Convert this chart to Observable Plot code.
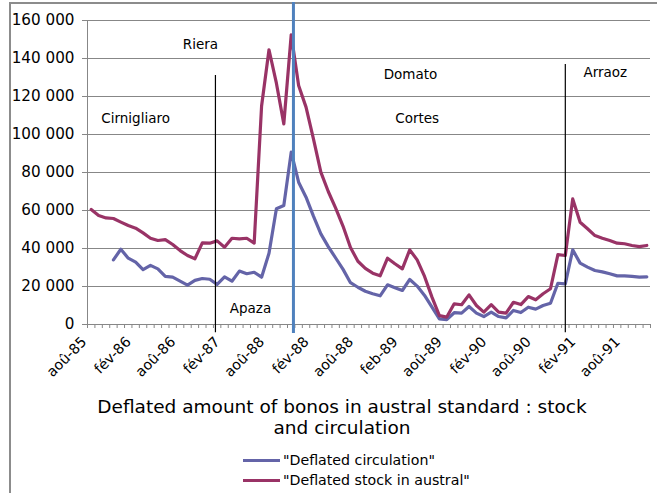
<!DOCTYPE html>
<html>
<head>
<meta charset="utf-8">
<script src="https://cdn.jsdelivr.net/npm/d3@7"></script>
<script src="https://cdn.jsdelivr.net/npm/@observablehq/plot@0.6"></script>
<style>
  body { margin: 0; background: #fff; font-family: "DejaVu Sans", sans-serif; }
  #wrap { position: relative; width: 662px; height: 493px; overflow: hidden; background: #fff; }
  #frame { position: absolute; left: 9px; top: 2px; width: 646px; height: 520px; border-left: 2px solid #8c8c8c; border-top: 2px solid #8c8c8c; }
  #chart { position: absolute; left: 0; top: 0; }
  #title { position: absolute; left: 22px; width: 640px; top: 396px; text-align: center; font-size: 18.5px; line-height: 21px; color: #000; }
  .leg { position: absolute; left: 243px; height: 20px; display: flex; align-items: center; font-size: 14.2px; color: #000; }
  .leg span.sw { display: inline-block; width: 37px; height: 3px; margin-right: 3px; }
</style>
</head>
<body>
<div id="wrap">
  <div id="frame"></div>
  <div id="chart"></div>
  <div id="title">Deflated amount of bonos in austral standard : stock<br>and circulation</div>
  <div class="leg" style="top:450px"><span class="sw" id="sw1"></span><span id="lt1"></span></div>
  <div class="leg" style="top:470px"><span class="sw" id="sw2"></span><span id="lt2"></span></div>
</div>
<script>
// Monthly categories: aoû-85 (index 0) ... nov-91 (index 75)
const tickIndex = [0, 6, 12, 18, 24, 30, 36, 42, 48, 54, 60, 66, 72];
const tickLabels = ["aoû-85","fév-86","aoû-86","fév-87","aoû-88","fév-88","aoû-88","feb-89","aoû-89","fév-90","aoû-90","fév-91","aoû-91"];
const yTicks = [0, 20000, 40000, 60000, 80000, 100000, 120000, 140000, 160000];

const seriesNames = ['"Deflated circulation"', '"Deflated stock in austral"'];
const seriesColors = ["#6464a8", "#993366"];

// values in thousands
const circulation = [null,null,null,34.0,39.6,34.9,32.8,28.9,31.1,29.3,25.3,24.9,22.8,20.7,23.2,24.2,23.8,21.1,25.1,22.8,28.1,26.7,27.5,24.9,37.5,60.9,62.6,90.7,74.9,67,57,47.7,41,35,29,22,19.6,17.5,16.2,15.1,20.9,19.4,17.9,23.7,20.2,15.3,9.1,3,2.6,6.2,6,9.5,6,4.2,6.5,4.2,3.5,7.4,6.3,9.1,8.1,10,11.2,21.7,21.4,39.3,32.3,30.2,28.4,27.7,26.7,25.6,25.6,25.3,24.9,25.1];
const stock = [60.5,57.4,56.1,55.8,53.9,52.1,50.7,48.2,45.4,44.2,44.7,42.1,38.9,36.3,34.6,43.0,42.8,44.0,40.7,45.4,45.1,45.4,42.8,115,144.6,127,105.6,152.5,125.8,114.4,97.7,80.2,70,61.2,51.7,40.5,33.3,29.5,27,25.6,34.9,32,29.3,39.3,34,25.3,14.4,4.7,3.9,10.9,10.4,15.6,10,6.5,10.4,6.5,6,11.7,10.5,14.7,13,16.2,18.8,36.8,36.3,66.1,53.8,50.4,46.8,45.4,44.2,42.8,42.5,41.6,41,41.6];

// annotation texts (x in month index, y in value)
const annoText = ["Riera", "Cirnigliaro", "Apaza", "Domato", "Cortes", "Arraoz"];
const annoX = [14.75, 6.0, 21.5, 43.1, 44.0, 69.4];
const annoY = [147400, 108400, 8400, 131600, 108400, 132600];

// vertical marker lines
const vlineX = [16.77, 27.3, 64.0];
const vlineTop = [131000, 169500, 136800];
const vlineBottom = [-4300, -4700, -4300];
const vlineColor = ["#000000", "#4f81bd", "#000000"];
const vlineWidth = [1.2, 3, 1.2];

const rows = [];
circulation.forEach((v, i) => rows.push({i, v: v == null ? NaN : v * 1000, s: 0}));
stock.forEach((v, i) => rows.push({i, v: v * 1000, s: 1}));
const annos = annoText.map((t, k) => ({t, x: annoX[k], y: annoY[k]}));
const vlines = vlineX.map((x, k) => ({x, y1: vlineBottom[k], y2: vlineTop[k], c: vlineColor[k], w: vlineWidth[k]}));
const boundaries = d3.range(stock.length + 1).map(k => k - 0.5);
const fmt = d => d3.format(",")(d).replace(/,/g, " ");
const gray = "#878787";

const chart = Plot.plot({
  width: 662, height: 385,
  marginLeft: 87, marginRight: 12, marginTop: 20, marginBottom: 61,
  x: {domain: [-0.5, stock.length - 0.5], axis: null},
  y: {domain: [0, 160000], axis: null},
  color: {type: "identity"},
  style: {fontFamily: "DejaVu Sans", background: "transparent", overflow: "visible", color: "#000"},
  marks: [
    Plot.gridY(yTicks, {stroke: gray, strokeOpacity: 1}),
    Plot.ruleX([-0.5], {y1: 0, y2: 160000, stroke: gray}),
    Plot.ruleY([0], {stroke: gray}),
    Plot.axisY(yTicks, {anchor: "left", tickSize: 5, tickPadding: 8, tickFormat: fmt, stroke: gray, fill: "#000", fontSize: 15.2}),
    Plot.axisX(boundaries, {anchor: "bottom", tickSize: 4, tickFormat: () => "", stroke: gray}),
    Plot.axisX(tickIndex, {anchor: "bottom", tickSize: 0, tickPadding: 6, tickRotate: -45, fontSize: 14.2, fill: "#000",
      dx: -7, dy: 9, tickFormat: d => tickLabels[tickIndex.indexOf(d)]}),
    Plot.line(rows.filter(d => d.s === 0), {x: "i", y: "v", stroke: seriesColors[0], strokeWidth: 3.2, strokeLinejoin: "round"}),
    Plot.line(rows.filter(d => d.s === 1), {x: "i", y: "v", stroke: seriesColors[1], strokeWidth: 3.2, strokeLinejoin: "round"}),
    Plot.ruleX(vlines, {x: "x", y1: "y1", y2: "y2", stroke: "c", strokeWidth: "w"}),
    Plot.text(annos, {x: "x", y: "y", text: "t", fontSize: 13.5, fill: "#000"})
  ]
});
document.getElementById("chart").appendChild(chart);
document.getElementById("sw1").style.background = seriesColors[0];
document.getElementById("sw2").style.background = seriesColors[1];
document.getElementById("lt1").textContent = seriesNames[0];
document.getElementById("lt2").textContent = seriesNames[1];
</script>
</body>
</html>
